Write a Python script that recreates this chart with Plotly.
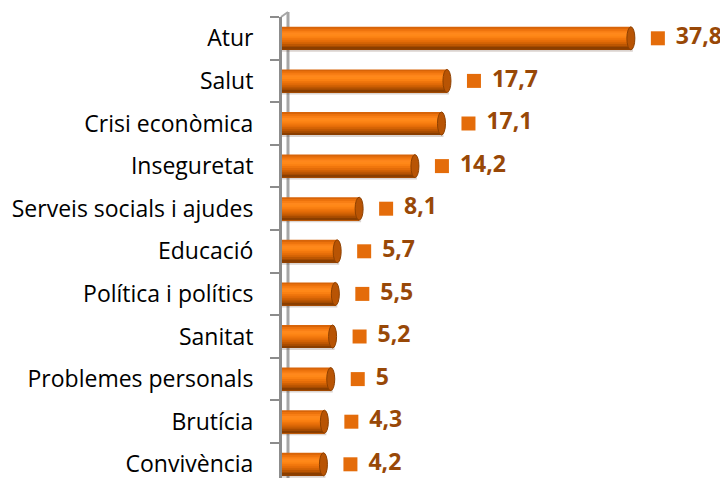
import plotly.graph_objects as go

categories = ["Atur", "Salut", "Crisi econòmica", "Inseguretat", "Serveis socials i ajudes",
              "Educació", "Política i polítics", "Sanitat", "Problemes personals", "Brutícia", "Convivència"]
values = [37.8, 17.7, 17.1, 14.2, 8.1, 5.7, 5.5, 5.2, 5.0, 4.3, 4.2]
labels = ["37,8", "17,7", "17,1", "14,2", "8,1", "5,7", "5,5", "5,2", "5", "4,3", "4,2"]

# page body has an 8px margin: figure occupies window x 8..728, y 8..478
BODY = 8
W, H = 728 - BODY, 478 - BODY
L, T = 282 - BODY, 17 - BODY
PW = W - L
px_per_unit = 9.15
x0_shift = 3 / px_per_unit          # data origin sits 3px right of the axis wall
xmin = -x0_shift
xmax = xmin + PW / px_per_unit
step = 42.6
ybottom = 10 + (H - T - step / 2 - 10 * step) / step

fig = go.Figure()
bar_w = 0.54
dy = 2 / step
dx = 2 / px_per_unit
# soft shadow
fig.add_trace(go.Bar(y=categories, x=[v + x0_shift + dx for v in values], base=xmin, orientation="h",
                     width=bar_w, offset=-bar_w / 2 + dy,
                     marker=dict(color="rgba(90,60,40,0.22)", line=dict(width=0)), hoverinfo="skip"))
# cylinder-like shading: each layer runs from its band top to the bar bottom
grad = ["#D86408", "#EC720C", "#F87E14", "#FF881C", "#FF8818", "#FA8012", "#F0760C",
        "#E46C08", "#D26204", "#BC5602", "#A44A00", "#8A3E00"]
n = len(grad)
bw = bar_w / n
for i, col in enumerate(grad):
    fig.add_trace(go.Bar(y=categories, x=[v + x0_shift for v in values], base=xmin, orientation="h",
                         width=bar_w - i * bw, offset=-bar_w / 2 + i * bw,
                         marker=dict(color=col, line=dict(width=0)), hoverinfo="skip"))

# rounded end caps
shapes = []
for i, v in enumerate(values):
    shapes.append(dict(type="circle", xref="x", yref="y",
                       x0=v - 4 / px_per_unit, x1=v + 4 / px_per_unit,
                       y0=i - bar_w / 2, y1=i + bar_w / 2,
                       fillcolor="#B85404", line=dict(color="#8E4000", width=1), layer="above"))
# 3D wall back line and top
shapes.append(dict(type="line", xref="paper", yref="paper", x0=6 / PW, x1=6 / PW, y0=0, y1=1 + 5 / (H - T),
                   line=dict(color="#A6A6A6", width=3), layer="below"))
shapes.append(dict(type="line", xref="paper", yref="paper", x0=-1 / PW, x1=6 / PW, y0=1, y1=1 + 5 / (H - T),
                   line=dict(color="#A6A6A6", width=2), layer="below"))

# legend-key squares
fig.add_trace(go.Scatter(y=categories, x=[v + 27 / px_per_unit for v in values], mode="markers",
                         marker=dict(symbol="square", size=14, color="#E46C0A", line=dict(width=0)),
                         hoverinfo="skip", cliponaxis=False))
# value labels
fig.add_trace(go.Scatter(y=categories, x=[v + 45 / px_per_unit for v in values], mode="text",
                         text=labels, textposition="middle right", cliponaxis=False,
                         textfont=dict(family="Open Sans", size=23, color="#984807", weight="bold"),
                         hoverinfo="skip"))

fig.update_layout(
    width=W, height=H, margin=dict(l=L, r=0, t=T, b=0, autoexpand=False),
    paper_bgcolor="white", plot_bgcolor="white", showlegend=False, barmode="overlay",
    font=dict(family="Open Sans", size=23, color="#000000"), shapes=shapes,
)
fig.update_xaxes(range=[xmin, xmax], visible=False)
fig.update_yaxes(type="category", categoryorder="array", categoryarray=categories,
                 range=[ybottom, -0.5], showline=True, linecolor="#8C8C8C", linewidth=3,
                 ticks="outside", tickson="boundaries", ticklen=9, tickcolor="#8C8C8C", tickwidth=2,
                 showgrid=False, zeroline=False, ticklabelstandoff=21, automargin=False,
                 tickfont=dict(family="Open Sans", size=23, color="#000000"))
fig.write_html("out.html")
